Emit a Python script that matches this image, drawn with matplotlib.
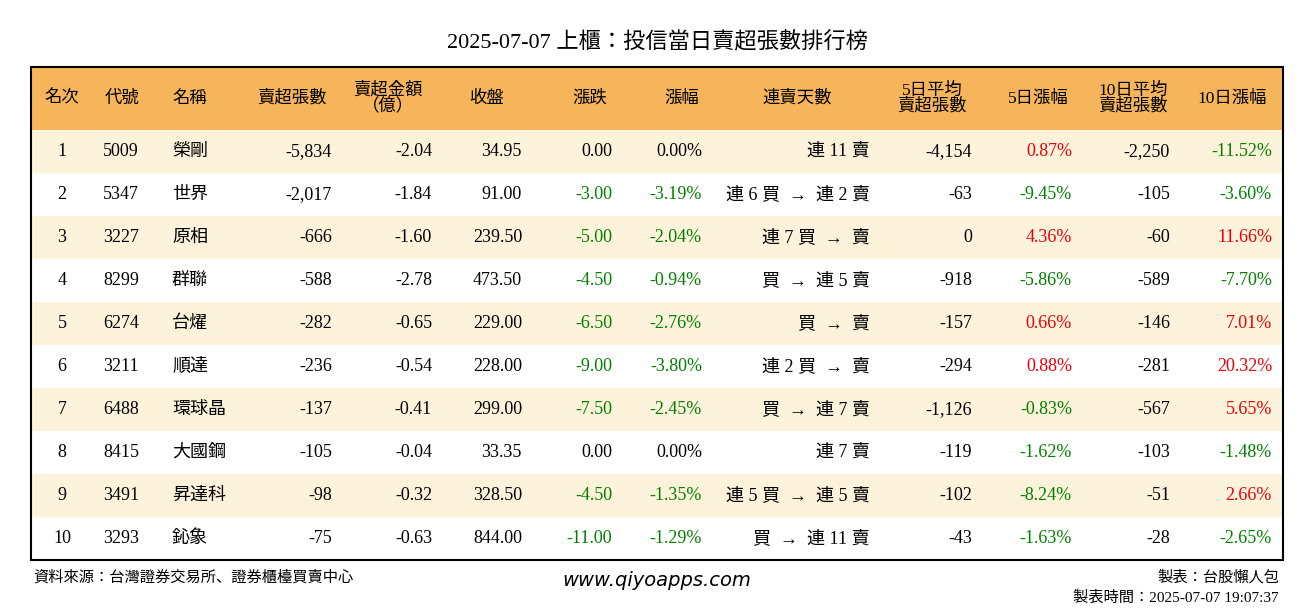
import matplotlib
matplotlib.use("Agg")
import matplotlib.pyplot as plt
from matplotlib.patches import Rectangle
from matplotlib import font_manager

title = "2025-07-07 上櫃：投信當日賣超張數排行榜"
headers = ["名次", "代號", "名稱", "賣超張數", "賣超金額\n（億）", "收盤", "漲跌", "漲幅", "連賣天數",
           "5日平均\n賣超張數", "5日漲幅", "10日平均\n賣超張數", "10日漲幅"]
ranks = [1, 2, 3, 4, 5, 6, 7, 8, 9, 10]
codes = ["5009", "5347", "3227", "8299", "6274", "3211", "6488", "8415", "3491", "3293"]
names = ["榮剛", "世界", "原相", "群聯", "台燿", "順達", "環球晶", "大國鋼", "昇達科", "鈊象"]
net_sell = [-5834, -2017, -666, -588, -282, -236, -137, -105, -98, -75]
amount = [-2.04, -1.84, -1.60, -2.78, -0.65, -0.54, -0.41, -0.04, -0.32, -0.63]
close = [34.95, 91.00, 239.50, 473.50, 229.00, 228.00, 299.00, 33.35, 328.50, 844.00]
change = [0.00, -3.00, -5.00, -4.50, -6.50, -9.00, -7.50, 0.00, -4.50, -11.00]
pct = [0.00, -3.19, -2.04, -0.94, -2.76, -3.80, -2.45, 0.00, -1.35, -1.29]
streak = ["連 11 賣", "連 6 買 → 連 2 賣", "連 7 買 → 賣", "買 → 連 5 賣", "買 → 賣", "連 2 買 → 賣",
          "買 → 連 7 賣", "連 7 賣", "連 5 買 → 連 5 賣", "買 → 連 11 賣"]
avg5 = [-4154, -63, 0, -918, -157, -294, -1126, -119, -102, -43]
pct5 = [0.87, -9.45, 4.36, -5.86, 0.66, 0.88, -0.83, -1.62, -8.24, -1.63]
avg10 = [-2250, -105, -60, -589, -146, -281, -567, -103, -51, -28]
pct10 = [-11.52, -3.60, 11.66, -7.70, 7.01, 20.32, 5.65, -1.48, 2.66, -2.65]

names_avail = {f.name for f in font_manager.fontManager.ttflist}
CJK = next((n for n in ["Noto Serif CJK TC", "Noto Sans CJK TC", "Noto Sans CJK JP", "Noto Sans CJK SC"]
            if n in names_avail), "DejaVu Sans")
SER = "Liberation Serif"
FAM = [SER, CJK]

W, H = 1314, 612
fig = plt.figure(figsize=(W / 100, H / 100), dpi=100)
ax = fig.add_axes([0, 0, 1, 1])
ax.set_xlim(0, W); ax.set_ylim(H, 0); ax.axis("off")

RED, GREEN = "#e8000b", "#008000"

def col(v):
    return RED if v > 0 else (GREEN if v < 0 else "black")

L, R, T, HB = 31, 1283, 67, 130
RH = 43
ax.text(W / 2, 42, title, ha="center", va="center", fontsize=16, fontfamily=FAM)
ax.add_patch(Rectangle((L, T), R - L, HB - T, facecolor="#f6b55a", edgecolor="none"))
for i in range(10):
    y0 = HB + i * RH
    ax.add_patch(Rectangle((L, y0), R - L, RH, facecolor="#fdf2da" if i % 2 == 0 else "white",
                           edgecolor="none"))
ax.add_patch(Rectangle((L, T), R - L, HB + 10 * RH - T, facecolor="none", edgecolor="black", lw=1.5))

hx = [62, 122, 190, 292, 388, 487, 590, 682, 797, 932, 1038, 1133, 1232]
for x, h in zip(hx, headers):
    ax.text(x, (T + HB) / 2, h, ha="center", va="center", fontsize=12.5, fontfamily=FAM,
            linespacing=0.95)

fs = 13
for i in range(10):
    y = HB + i * RH + RH / 2
    cells = [
        (62, "center", str(ranks[i]), "black"),
        (103, "left", codes[i], "black"),
        (172, "left", names[i], "black"),
        (332, "right", f"{net_sell[i]:,}", "black"),
        (432, "right", f"{amount[i]:.2f}", "black"),
        (522, "right", f"{close[i]:.2f}", "black"),
        (612, "right", f"{change[i]:.2f}", col(change[i])),
        (702, "right", f"{pct[i]:.2f}%", col(pct[i])),
        (870, "right", streak[i], "black"),
        (972, "right", f"{avg5[i]:,}", "black"),
        (1072, "right", f"{pct5[i]:.2f}%", col(pct5[i])),
        (1170, "right", f"{avg10[i]:,}", "black"),
        (1272, "right", f"{pct10[i]:.2f}%", col(pct10[i])),
    ]
    for x, ha, s, c in cells:
        if "→" in s:
            s = s.replace(" → ", "  →  ")
        ax.text(x, y, s, ha=ha, va="center", fontsize=fs, color=c, fontfamily=FAM)

ax.text(33, 577, "資料來源：台灣證券交易所、證券櫃檯買賣中心", ha="left", va="center", fontsize=11,
        fontfamily=FAM)
ax.text(W / 2, 580, "www.qiyoapps.com", ha="center", va="center", fontsize=14, style="italic",
        fontfamily="DejaVu Sans")
ax.text(1279, 577, "製表：台股懶人包", ha="right", va="center", fontsize=11, fontfamily=FAM)
ax.text(1279, 598, "製表時間：2025-07-07 19:07:37", ha="right", va="center", fontsize=11,
        fontfamily=FAM)

fig.savefig("out.png", dpi=100)
